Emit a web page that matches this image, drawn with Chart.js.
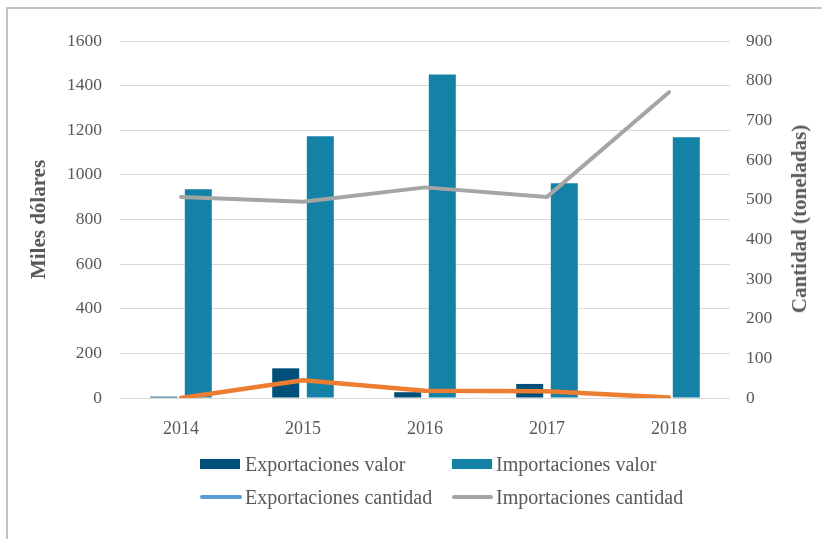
<!DOCTYPE html>
<html>
<head>
<meta charset="utf-8">
<script src="https://cdn.jsdelivr.net/npm/chart.js@4.4.1/dist/chart.umd.min.js"></script>
<style>
  html, body { margin: 0; padding: 0; background: #ffffff; }
  #wrap { position: relative; width: 822px; height: 539px; overflow: hidden; background: #fff; }
  #frame { position: absolute; left: 6px; top: 7px; width: 900px; height: 600px;
           border-left: 2px solid #c4c4c4; border-top: 2px solid #c4c4c4; box-sizing: border-box; }
  #chart { position: absolute; left: 0; top: 0; }
  .leg { position: absolute; font-family: "Liberation Serif", serif; font-size: 20px; color: #595959;
         line-height: 20px; white-space: nowrap; }
  .sw { position: absolute; }
  #rtitle { position: absolute; left: 799px; top: 219px; transform: translate(-50%, -50%) rotate(-90deg);
            font-family: "Liberation Serif", serif; font-size: 21px; font-weight: bold; color: #595959;
            white-space: nowrap; line-height: 24px; }
</style>
</head>
<body>
<div id="wrap">
  <div id="frame"></div>
  <canvas id="chart" width="822" height="539"></canvas>
  <div id="rtitle"></div>
  <div class="sw" style="left:200px;top:459px;width:40px;height:10px;background:#005079"></div>
  <div class="leg" style="left:245px;top:454px">Exportaciones valor</div>
  <div class="sw" style="left:452px;top:459px;width:40px;height:10px;background:#1481a7"></div>
  <div class="leg" style="left:496px;top:454px">Importaciones valor</div>
  <div class="sw" style="left:200px;top:495px;width:42px;height:4px;border-radius:2px;background:#5b9bd5"></div>
  <div class="leg" style="left:245px;top:487px">Exportaciones cantidad</div>
  <div class="sw" style="left:452px;top:495px;width:41px;height:4px;border-radius:2px;background:#a5a5a5"></div>
  <div class="leg" style="left:496px;top:487px">Importaciones cantidad</div>
</div>
<script>
const categories = ['2014', '2015', '2016', '2017', '2018'];
const exportacionesValor = [6, 133, 26, 63, 0];
const importacionesValor = [936, 1173, 1450, 962, 1169];
const exportacionesCantidad = [0, 45, 18, 17, 1];
const importacionesCantidad = [507, 495, 531, 507, 771];
const leftTitle = 'Miles dólares';
const rightTitle = 'Cantidad (toneladas)';

const FONT = 'Liberation Serif';
const TXT = '#595959';

document.getElementById('rtitle').textContent = rightTitle;

new Chart(document.getElementById('chart'), {
  type: 'bar',
  data: {
    labels: categories,
    datasets: [
      { label: 'Exportaciones cantidad', type: 'line', data: exportacionesCantidad, yAxisID: 'y1',
        borderColor: '#ed7d31', backgroundColor: '#5b9bd5', borderWidth: 4.5, pointRadius: 0,
        borderCapStyle: 'round', borderJoinStyle: 'round', tension: 0, order: 1 },
      { label: 'Importaciones cantidad', type: 'line', data: importacionesCantidad, yAxisID: 'y1',
        borderColor: '#a5a5a5', backgroundColor: '#a5a5a5', borderWidth: 4, pointRadius: 0,
        borderCapStyle: 'round', borderJoinStyle: 'round', tension: 0, order: 1 },
      { label: 'Exportaciones valor', data: exportacionesValor, yAxisID: 'y',
        backgroundColor: '#005079', categoryPercentage: 0.567, barPercentage: 0.78, order: 2 },
      { label: 'Importaciones valor', data: importacionesValor, yAxisID: 'y',
        backgroundColor: '#1481a7', categoryPercentage: 0.567, barPercentage: 0.78, order: 2 }
    ]
  },
  options: {
    responsive: false,
    animation: false,
    layout: { padding: { left: 0, right: 0, top: 41, bottom: 100 } },
    plugins: { legend: { display: false }, tooltip: { enabled: false } },
    scales: {
      x: {
        grid: { display: false },
        border: { display: false },
        ticks: { color: TXT, font: { family: FONT, size: 18 }, padding: 12 },
        afterFit: s => { s.height = 41; }
      },
      y: {
        position: 'left', min: 0, max: 1600,
        ticks: { stepSize: 200, color: TXT, font: { family: FONT, size: 17.5 }, padding: 18,
                 callback: v => String(v) },
        grid: { color: '#d9d9d9', lineWidth: 1, drawTicks: false },
        border: { display: false },
        title: { display: true, text: leftTitle, color: TXT, font: { family: FONT, size: 21, weight: 'bold' },
                 padding: { top: 27, bottom: 0 } },
        afterFit: s => { s.width = 120; }
      },
      y1: {
        position: 'right', min: 0, max: 900,
        ticks: { stepSize: 100, color: TXT, font: { family: FONT, size: 17.5 }, padding: 16,
                 callback: v => String(v) },
        grid: { drawOnChartArea: false, drawTicks: false },
        border: { display: false },
        afterFit: s => { s.width = 92; }
      }
    }
  }
});
</script>
</body>
</html>
